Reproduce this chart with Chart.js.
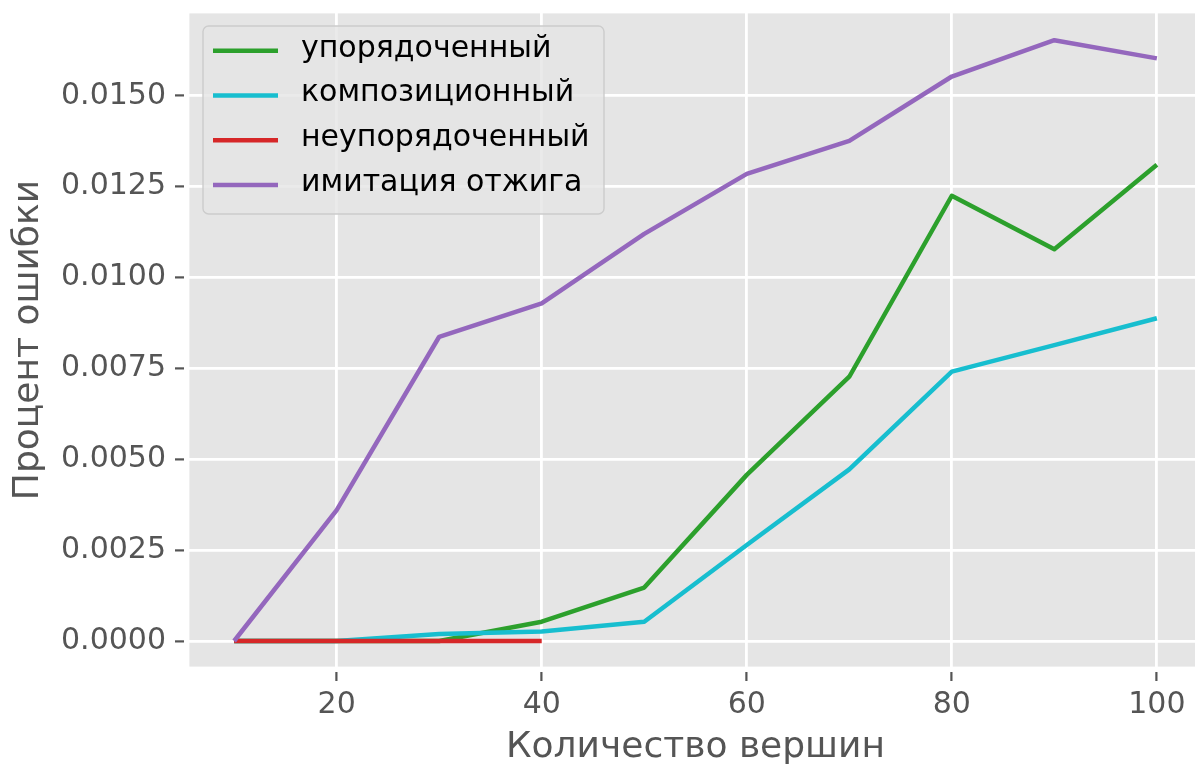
<!DOCTYPE html>
<html>
<head>
<meta charset="utf-8">
<script src="https://cdn.jsdelivr.net/npm/chart.js@4/dist/chart.umd.min.js"></script>
<style>
  html, body { margin: 0; padding: 0; background: #ffffff; overflow: hidden; }
  #wrap { width: 1215px; height: 766px; }
</style>
</head>
<body>
<div id="wrap"><canvas id="c" width="1215" height="766"></canvas></div>
<script>
// ---- data ----
const xValues = [10, 20, 30, 40, 50, 60, 70, 80, 90, 100];
const orderedValues = [0, 0, 0, 0.00053, 0.00147, 0.00457, 0.00727, 0.01225, 0.01078, 0.0131];
const compositionValues = [0, 0, 0.00019, 0.00026, 0.00053, 0.00264, 0.00472, 0.00741, 0.00814, 0.00888];
const unorderedX = [10, 20, 30, 40];
const unorderedValues = [0, 0, 0, 0];
const annealingValues = [0, 0.0036, 0.00837, 0.00929, 0.0112, 0.01285, 0.01376, 0.01553, 0.01653, 0.01603];
const seriesLabels = ['упорядоченный', 'композиционный', 'неупорядоченный', 'имитация отжига'];
const xTickValues = [20, 40, 60, 80, 100];
const yTickValues = [0, 0.0025, 0.005, 0.0075, 0.01, 0.0125, 0.015];
const xTitle = 'Количество вершин';
const yTitle = 'Процент ошибки';

const colors = ['#2ca02c', '#17becf', '#d62728', '#9467bd'];
const FONT = "'DejaVu Sans', 'Liberation Sans', sans-serif";
const TICK_SIZE = 30;
const TITLE_SIZE = 36;

function pts(xs, ys) { return xs.map((x, i) => ({ x: x, y: ys[i] })); }

const bgPlugin = {
  id: 'bg',
  beforeDraw(chart) {
    const { ctx, chartArea: a } = chart;
    ctx.save();
    ctx.fillStyle = '#ffffff';
    ctx.fillRect(0, 0, chart.width, chart.height);
    ctx.fillStyle = '#e5e5e5';
    ctx.fillRect(a.left, a.top, a.right - a.left, a.bottom - a.top);
    ctx.restore();
  },
  afterDatasetsDraw(chart) {
    const { ctx, chartArea: a } = chart;
    ctx.save();
    ctx.strokeStyle = '#ffffff';
    ctx.lineWidth = 2.8;
    ctx.strokeRect(a.left, a.top, a.right - a.left, a.bottom - a.top);
    // legend box
    const x0 = 203, y0 = 26, w = 401, h = 188;
    ctx.beginPath();
    ctx.roundRect(x0, y0, w, h, 5.6);
    ctx.fillStyle = 'rgba(229,229,229,0.8)';
    ctx.fill();
    ctx.lineWidth = 1.4;
    ctx.strokeStyle = '#cccccc';
    ctx.stroke();
    ctx.font = TICK_SIZE + "px " + FONT;
    ctx.textBaseline = 'alphabetic';
    ctx.textAlign = 'left';
    chart.data.datasets.forEach((ds, i) => {
      const y = 50.7 + i * 44.75;
      ctx.beginPath();
      ctx.moveTo(213, y);
      ctx.lineTo(278, y);
      ctx.strokeStyle = ds.borderColor;
      ctx.lineWidth = 4.5;
      ctx.lineCap = 'butt';
      ctx.stroke();
      ctx.fillStyle = '#000000';
      ctx.fillText(ds.label, 301, y + 6);
    });
    ctx.restore();
  }
};

new Chart(document.getElementById('c'), {
  type: 'line',
  data: {
    datasets: [
      { label: seriesLabels[0], data: pts(xValues, orderedValues), borderColor: colors[0], order: 3 },
      { label: seriesLabels[1], data: pts(xValues, compositionValues), borderColor: colors[1], order: 2 },
      { label: seriesLabels[2], data: pts(unorderedX, unorderedValues), borderColor: colors[2], order: 1 },
      { label: seriesLabels[3], data: pts(xValues, annealingValues), borderColor: colors[3], order: 0 }
    ]
  },
  options: {
    responsive: false,
    animation: false,
    devicePixelRatio: 1,
    layout: { padding: { top: 12, right: 12, left: 0, bottom: 0 } },
    elements: {
      line: { borderWidth: 4.5, tension: 0, fill: false, borderCapStyle: 'butt', borderJoinStyle: 'round' },
      point: { radius: 0, hoverRadius: 0 }
    },
    plugins: { legend: { display: false }, tooltip: { enabled: false } },
    scales: {
      x: {
        type: 'linear',
        min: 5.5,
        max: 104.5,
        afterFit(s) { s.height = 98; s.paddingLeft = 0; s.paddingRight = 0; },
        afterBuildTicks(s) { s.ticks = xTickValues.map(v => ({ value: v })); },
        border: { display: false },
        grid: {
          color: '#ffffff', lineWidth: 2.8, drawTicks: true, tickLength: 13,
          tickColor: '#555555', tickWidth: 2.2, tickBorderDash: [9, 4], tickBorderDashOffset: 9
        },
        ticks: {
          color: '#555555', font: { family: FONT, size: TICK_SIZE, lineHeight: 1.2 }, padding: 6,
          maxRotation: 0, autoSkip: false, callback: v => String(v)
        },
        title: {
          display: true, text: xTitle, color: '#555555',
          font: { family: FONT, size: TITLE_SIZE, lineHeight: 1 }, padding: { top: 0, bottom: 0 }
        }
      },
      y: {
        type: 'linear',
        min: -0.000743,
        max: 0.017305,
        afterFit(s) { s.width = 188; s.paddingTop = 0; s.paddingBottom = 0; },
        afterBuildTicks(s) { s.ticks = yTickValues.map(v => ({ value: v })); },
        border: { display: false },
        grid: {
          color: '#ffffff', lineWidth: 2.8, drawTicks: true, tickLength: 13,
          tickColor: '#555555', tickWidth: 2.2, tickBorderDash: [9, 4], tickBorderDashOffset: 0
        },
        ticks: {
          color: '#555555', font: { family: FONT, size: TICK_SIZE, lineHeight: 1.2 }, padding: 9,
          autoSkip: false, callback: v => Number(v).toFixed(4)
        },
        title: {
          display: true, text: yTitle, color: '#555555',
          font: { family: FONT, size: TITLE_SIZE, lineHeight: 1 }, padding: { top: 11, bottom: 0 }
        }
      }
    }
  },
  plugins: [bgPlugin]
});
</script>
</body>
</html>
